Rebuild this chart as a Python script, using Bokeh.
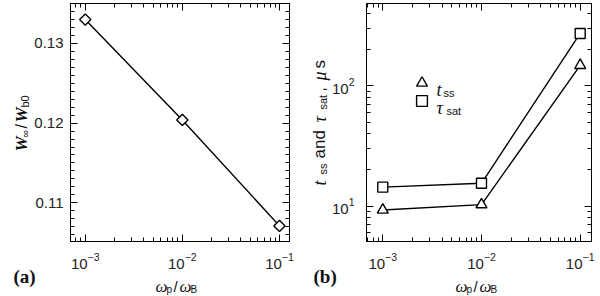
import math
from bokeh.plotting import figure
from bokeh.models import (FixedTicker, LogTickFormatter, BasicTickFormatter, LinearAxis,
                          LogAxis, Label, Legend, LegendItem, Range1d, GridBox)
from bokeh.embed import file_html
from bokeh.resources import INLINE

# ---------------- data ----------------
omega_ratio = [1e-3, 1e-2, 1e-1]          # omega_p / omega_B
w_ratio = [0.1330, 0.1204, 0.1071]        # W_inf / W_b0
t_ss = [9.3, 10.3, 148.0]                 # t_ss, microseconds
tau_sat = [14.4, 15.5, 272.0]             # tau_sat, microseconds

x_major = [1e-3, 1e-2, 1e-1]
x_minor = [m * 10.0 ** e for e in (-4, -3, -2, -1) for m in range(2, 10)]
wa_major = [0.11, 0.12, 0.13]
wa_minor = [round(0.105 + 0.001 * i, 3) for i in range(31)]
tb_major = [10, 100]
tb_minor = [m * 10.0 ** e for e in (0, 1, 2) for m in range(2, 10)]

TICK_FONT = "Liberation Sans"
SERIF = "Liberation Serif"
W, H = 600, 296
SH = 2  # page offset compensation


def style_axis(ax, show_labels=True, standoff=8):
    ax.axis_line_color = "black"
    ax.axis_line_width = 1
    ax.major_tick_in = 7
    ax.major_tick_out = 0
    ax.minor_tick_in = 4
    ax.minor_tick_out = 0
    ax.major_tick_line_color = "black"
    ax.minor_tick_line_color = "black"
    ax.major_label_text_font = TICK_FONT
    ax.major_label_text_font_size = "15px"
    ax.major_label_text_color = "#222222"
    ax.major_label_standoff = standoff
    if not show_labels:
        ax.major_label_text_font_size = "1px"
        ax.major_label_text_alpha = 0
        ax.major_label_standoff = 0


def make_fig(bl, br, x_range, y_range, y_type):
    p = figure(width=300, height=H, x_axis_type="log", y_axis_type=y_type,
               x_range=x_range, y_range=y_range, output_backend="svg",
               toolbar_location=None, min_border_left=bl, min_border_right=br,
               min_border_top=5 - SH, min_border_bottom=53 + SH)
    p.grid.visible = False
    p.outline_line_color = "black"
    p.background_fill_color = "white"
    p.border_fill_color = "white"
    p.frame_align = False
    return p


# ---------------- panel (a) ----------------
pa = make_fig(72 - SH, 9 + SH, Range1d(7.05e-4, 0.1269), Range1d(0.10514, 0.13502), "linear")
pa.xaxis[0].ticker = FixedTicker(ticks=x_major, minor_ticks=x_minor)
pa.xaxis[0].formatter = LogTickFormatter()
style_axis(pa.xaxis[0], True, 11)
pa.yaxis[0].ticker = FixedTicker(ticks=wa_major, minor_ticks=wa_minor)
pa.yaxis[0].formatter = BasicTickFormatter(precision=2)
style_axis(pa.yaxis[0], True, 7)
ax_top = LogAxis(ticker=FixedTicker(ticks=x_major, minor_ticks=x_minor))
style_axis(ax_top, False)
pa.add_layout(ax_top, "above")
ax_right = LinearAxis(ticker=FixedTicker(ticks=wa_major, minor_ticks=wa_minor))
style_axis(ax_right, False)
pa.add_layout(ax_right, "right")

pa.line(omega_ratio, w_ratio, line_color="black", line_width=1.4)
pa.scatter(omega_ratio, w_ratio, marker="square", angle=math.pi / 4, size=8,
           fill_color="white", line_color="black", line_width=1.4)

# ---------------- panel (b) ----------------
FB_L, FB_B = 368, 243
pb = make_fig(68 - SH, 7 + SH, Range1d(6.84e-4, 0.1302), Range1d(5.09, 482.7), "log")
pb.xaxis[0].ticker = FixedTicker(ticks=x_major, minor_ticks=x_minor)
pb.xaxis[0].formatter = LogTickFormatter()
style_axis(pb.xaxis[0], True, 11)
pb.yaxis[0].ticker = FixedTicker(ticks=tb_major, minor_ticks=tb_minor)
pb.yaxis[0].formatter = LogTickFormatter()
style_axis(pb.yaxis[0], True, 12)
bx_top = LogAxis(ticker=FixedTicker(ticks=x_major, minor_ticks=x_minor))
style_axis(bx_top, False)
pb.add_layout(bx_top, "above")
by_right = LogAxis(ticker=FixedTicker(ticks=tb_major, minor_ticks=tb_minor))
style_axis(by_right, False)
pb.add_layout(by_right, "right")

pb.line(omega_ratio, tau_sat, line_color="black", line_width=1.4)
pb.line(omega_ratio, t_ss, line_color="black", line_width=1.4)
sq_r = pb.scatter(omega_ratio, tau_sat, marker="square", size=10,
                  fill_color="white", line_color="black", line_width=1.4)
tri_r = pb.scatter(omega_ratio, t_ss, marker="triangle", size=11,
                   fill_color="white", line_color="black", line_width=1.4)


def key(renderer, cx, cy):
    # legend key centred at page pixel (cx, cy); box 27x27 -> marker ~11px
    g = 27
    return Legend(items=[LegendItem(label=" ", renderers=[renderer])],
                  location=(cx - g / 2 - FB_L, FB_B - (cy + g / 2)),
                  glyph_width=g, glyph_height=g, spacing=0, padding=0, margin=0,
                  label_text_font_size="6px", label_height=1, label_width=1,
                  label_standoff=0, border_line_alpha=0, background_fill_alpha=0)


pb.add_layout(key(tri_r, 423.3, 84.3))
pb.add_layout(key(sq_r, 423.3, 102.3))

# ---------------- text overlay (page pixel coordinates) ----------------
ov = figure(width=W, height=H, x_range=Range1d(SH, W + SH), y_range=Range1d(H + SH, SH),
            output_backend="svg", toolbar_location=None, min_border=0,
            x_axis_location=None, y_axis_location=None)
ov.grid.visible = False
ov.outline_line_color = None
ov.background_fill_alpha = 0
ov.border_fill_alpha = 0
ov.frame_align = False


def add_text(px, py, text, size, font=TICK_FONT, style="normal", angle=0.0,
             color="#111111"):
    ov.add_layout(Label(x=px, y=py, text=text, text_font=font,
                        text_font_size=f"{size}px", text_font_style=style,
                        angle=angle, text_align="left",
                        text_baseline="alphabetic", text_color=color))


R = math.pi / 2
for dx in (0, 300):
    add_text(157 + dx, 288, "ω", 17, SERIF, "italic")
    add_text(168 + dx, 291, "p", 10)
    add_text(175 + dx, 288, "/", 15)
    add_text(181 + dx, 288, "ω", 17, SERIF, "italic")
    add_text(192 + dx, 291, "B", 10)

# y label (a): W_inf / W_b0
add_text(23, 153, "W", 17, SERIF, "bold italic", R)
add_text(26, 139, "∞", 11, TICK_FONT, "normal", R)
add_text(23, 130, "/", 16, TICK_FONT, "normal", R)
add_text(23, 124, "W", 17, SERIF, "bold italic", R)
add_text(26, 109, "b0", 11, TICK_FONT, "normal", R)
add_text(15, 278, "(a)", 19, SERIF, "bold")

# y label (b): t_ss and tau_sat, mu s
add_text(321, 187, "t", 18, SERIF, "italic", R)
add_text(324, 176, "ss", 11, TICK_FONT, "normal", R)
add_text(321, 160, "and", 17, TICK_FONT, "normal", R)
add_text(321, 124, "τ", 18, SERIF, "italic", R)
add_text(324, 111, "sat", 11, TICK_FONT, "normal", R)
add_text(321, 93, ",", 15, TICK_FONT, "normal", R)
add_text(321, 82, "μ", 18, SERIF, "italic", R)
add_text(321, 70, "s", 17, TICK_FONT, "normal", R)
add_text(315, 278, "(b)", 19, SERIF, "bold")

# legend labels
add_text(438, 91, "t", 18, SERIF, "italic")
add_text(445, 94, "ss", 11)
add_text(438, 109, "τ", 18, SERIF, "italic")
add_text(448, 112, "sat", 11)

layout = GridBox(children=[(pa, 0, 0), (pb, 0, 1), (ov, 0, 0, 1, 2)])
open("out.html", "w").write(file_html(layout, INLINE))
